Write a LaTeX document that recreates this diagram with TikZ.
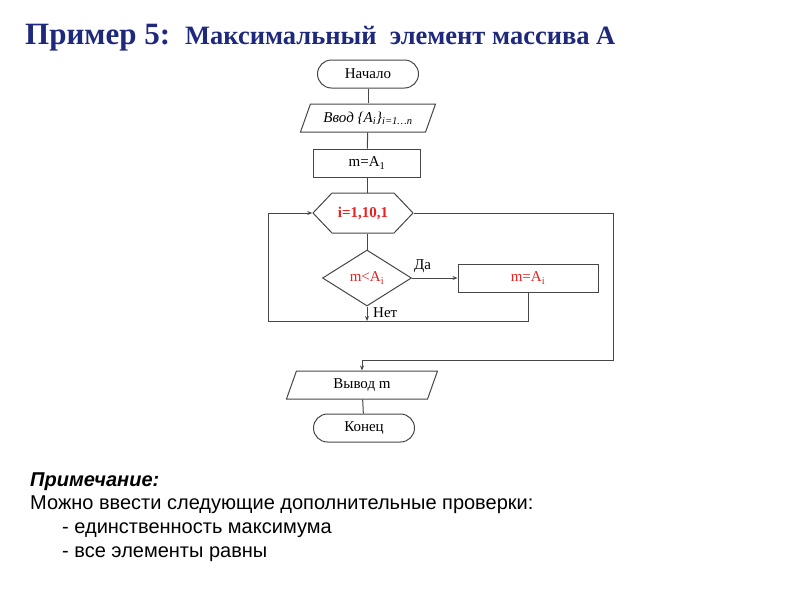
\documentclass[tikz,border=0pt]{standalone}
\usepackage{fontspec}
\setmainfont{Liberation Serif}
\setsansfont{Liberation Sans}
\usetikzlibrary{calc,positioning,shapes.geometric,shapes.symbols}
\usetikzlibrary{arrows.meta}
\tikzset{>={Stealth[width=4pt,length=5pt]}}
\definecolor{navy}{RGB}{30,40,125}
\definecolor{redtxt}{RGB}{232,32,32}
\definecolor{linegray}{RGB}{70,70,70}

\begin{document}
\begin{tikzpicture}[x=1pt,y=-1pt]
      \tikzstyle{every node} = [font=\fontsize{15}{18}\selectfont]
      \tikzstyle{tnode} = [draw=linegray, line width=1pt, rectangle, rounded corners = 14pt, minimum width = 101pt, minimum height = 28pt, inner sep = 1pt]
      \tikzstyle{pnode} = [draw=linegray, line width=1pt, trapezium, trapezium left angle = 56, trapezium right angle = 124, trapezium stretches body, minimum height = 28pt, inner sep = 1pt]
      \tikzstyle{bnode} = [draw=linegray, line width=1pt, rectangle, minimum height = 28pt, inner sep = 1pt]
      \tikzstyle{hnode} = [draw=linegray, line width=1pt, signal, signal to = east and west, signal pointer angle = 93, minimum width = 100pt, minimum height = 40pt, inner sep = 1pt]
      \tikzstyle{dnode} = [draw=linegray, line width=1pt, diamond, aspect = 1.6, minimum width = 89pt, minimum height = 56pt, inner sep = 0pt]
      \tikzstyle{link} = [draw=linegray, line width = 1pt]
      \tikzstyle{lbl} = [inner sep = 1pt]

      \useasboundingbox (0,0) rectangle (800,600);

      %%%%%%%%%%%%%%%%%%%%%%%%%%%%%% 
      %% Title
      %%%%%%%%%%%%%%%%%%%%%%%%%%%%%% 
      \node[anchor=base west, inner sep=0pt, text=navy, font=\fontsize{31}{35}\selectfont\bfseries] (ttl) at (25,44) {Пример 5:};
      \node[anchor=base west, inner sep=0pt, text=navy, font=\fontsize{26.5}{30}\selectfont\bfseries] (ttl2) at (185,44) {Максимальный \ элемент массива А};

      %%%%%%%%%%%%%%%%%%%%%%%%%%%%%% 
      %% The flowchart
      %%%%%%%%%%%%%%%%%%%%%%%%%%%%%% 
      \node[tnode] (start) at (368,74) {Начало};
      \node[pnode, minimum width = 135pt] (inp) at (368,118) {\itshape Ввод \{A\textsubscript{i}\}\textsubscript{i=1…n}};
      \node[bnode, minimum width = 107pt] (init) at (367,163) {m=A\textsubscript{1}};
      \node[hnode, text=redtxt, font=\fontsize{15}{18}\selectfont\bfseries] (loop) at (363,213) {i=1,10,1};
      \node[dnode, text=redtxt] (cmp) at (367,278) {m<A\textsubscript{i}};
      \node[bnode, minimum width = 140pt, text=redtxt] (upd) at (528,278) {m=A\textsubscript{i}};
      \node[pnode, minimum width = 151pt] (outp) at (362,385) {Вывод m};
      \node[tnode] (stop) at (364,428) {Конец};

      \node[lbl, anchor=south west] (yes) at (413,274) {Да};
      \node[lbl, anchor=west] (no) at (372,313) {Нет};

      \coordinate (join) at (367,321);
      \coordinate (backl) at (268,321);
      \coordinate (exitr) at (613,360);

      \draw[link] (start) -- (inp);
      \draw[link] (inp) -- (init);
      \draw[link] (init) -- (loop.north -| init);
      \draw[link] (loop.south -| cmp) -- (cmp.north);
      \draw[link, ->] (cmp.east) -- (upd.west);
      \draw[link, ->] (cmp.south) -- (join);
      \draw[link, ->] (upd.south) |- (backl) |- (loop.west);
      \draw[link, ->] (loop.east) -| (exitr) -| (outp.north);
      \draw[link] (outp) -- (stop);

      %%%%%%%%%%%%%%%%%%%%%%%%%%%%%% 
      %% The note
      %%%%%%%%%%%%%%%%%%%%%%%%%%%%%% 
      \begin{scope}[every node/.append style={anchor=base west, inner sep=0pt, font=\fontsize{20}{23}\selectfont\sffamily}]
        \node (n1) at (30,486) {\bfseries\itshape Примечание:};
        \node (n2) at (30,509) {Можно ввести следующие дополнительные проверки:};
        \node (n3) at (62,533) {- единственность максимума};
        \node (n4) at (62,557) {- все элементы равны};
      \end{scope}
\end{tikzpicture}
\end{document}
